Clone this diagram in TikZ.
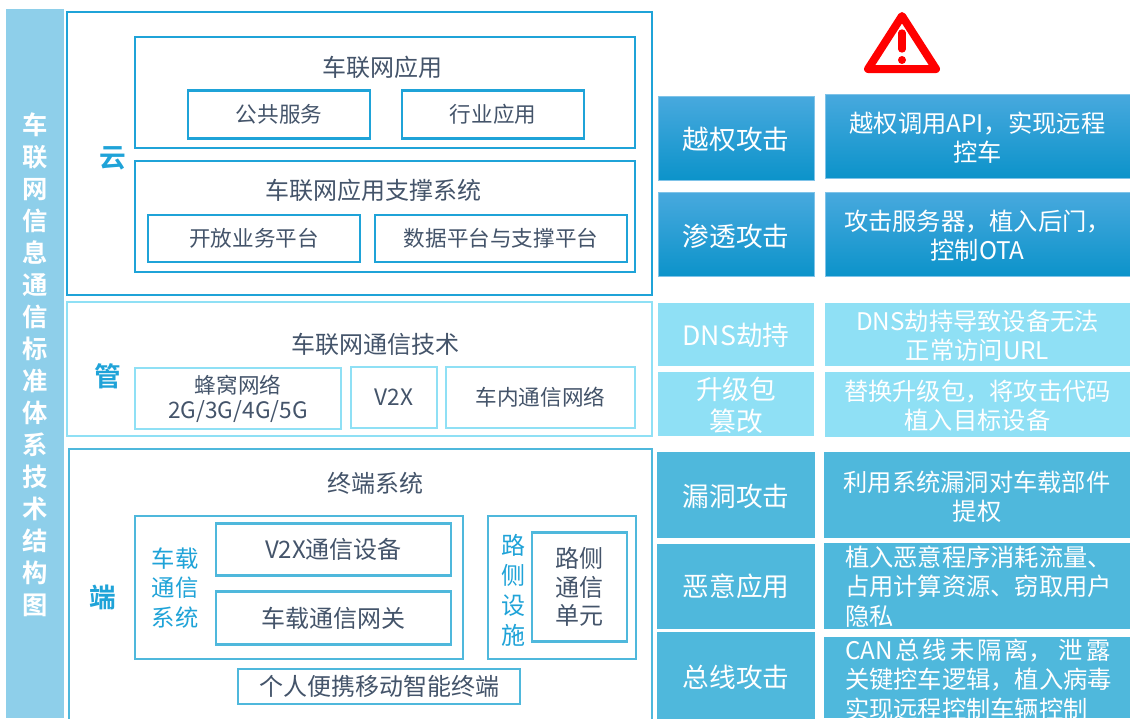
\documentclass[tikz,border=0pt]{standalone}
\usepackage{fontspec}
\setmainfont{Noto Sans CJK SC}
\newfontfamily\boldcjk{Noto Sans CJK SC Bold}
\definecolor{txtgray}{HTML}{44546A}
\definecolor{cloudblue}{HTML}{1FA3D8}
\definecolor{pipeblue}{HTML}{8FE0F5}
\definecolor{endblue}{HTML}{4FB8DC}
\definecolor{sidebar}{HTML}{8ECFEA}
\definecolor{hottop}{HTML}{48A9DE}
\definecolor{hotmid}{HTML}{16A0DA}
\definecolor{hotlow}{HTML}{0C93CA}

\begin{document}
\begin{tikzpicture}[%
	x=.75pt,y=-.75pt,
	every node/.style = {align=center,inner sep=0pt,outer sep=0pt},
	wh/.style 2 args={minimum width=#1*.75pt,minimum height=#2*.75pt},
	txt/.style={text=txtgray,font=\fontsize{18}{21.5}\selectfont},
	small/.style={text=txtgray,font=\fontsize{16.2}{20.5}\selectfont},
	frame/.style={draw=#1,line width=2pt,fill=white},
	tag/.style={text=cloudblue,font=\fontsize{20}{22}\boldcjk},
	attack/.style={text=white,font=\fontsize{20}{24}\selectfont},
	detail/.style={text=white,font=\fontsize{18.2}{22}\selectfont},
	hot/.style={draw=hottop!70!white,line width=.6pt,top color=hottop,middle color=hotmid,bottom color=hotlow},
	flat/.style={fill=#1}
	]
  \useasboundingbox (0,0) rectangle (1130,718);
  \clip (0,0) rectangle (1130,718);

  % side title
  \node [wh={58}{709},fill=sidebar] (side) at (35,363.5) {};
  \node [text=white,font=\fontsize{19}{24}\boldcjk] (sidetxt) at (35,365) {车\\联\\网\\信\\息\\通\\信\\标\\准\\体\\系\\技\\术\\结\\构\\图};

  % cloud
  \node [frame=cloudblue,wh={585}{283}] (cloud) at (359.5,153.5) {};
  \node [tag] (yun) at (113,158) {云};
  \node [frame=cloudblue,wh={500}{111}] (app) at (385,92.5) {};
  \node [txt] (apptxt) at (382,67) {车联网应用};
  \node [frame=cloudblue,small,wh={182}{48}] (pub) at (279,114.5) {公共服务};
  \node [frame=cloudblue,small,wh={182}{48}] (ind) at (493,114.5) {行业应用};
  \node [frame=cloudblue,wh={500}{111}] (sup) at (385,216.5) {};
  \node [txt] (suptxt) at (373,190.5) {车联网应用支撑系统};
  \node [frame=cloudblue,small,wh={212}{47}] (open) at (254,238.5) {开放业务平台};
  \node [frame=cloudblue,small,wh={252}{47}] (data) at (501,238.5) {数据平台与支撑平台};

  % pipe
  \node [frame=pipeblue,wh={585}{134}] (pipe) at (359.5,369) {};
  \node [tag] (guan) at (108,376) {管};
  \node [txt] (pipetxt) at (375,344.5) {车联网通信技术};
  \node [frame=pipeblue,small,wh={206}{61}] (cell) at (238,398.5) {蜂窝网络\\[-1.5pt]{\fontsize{17}{20.5}\selectfont 2G/3G/4G/5G}};
  \node [frame=pipeblue,small,wh={86}{61}] (vtox) at (394,397.5) {\fontsize{17}{20.5}\selectfont V2X};
  \node [frame=pipeblue,small,wh={189}{61}] (invehicle) at (540.5,397.5) {车内通信网络};

  % terminal
  \node [frame=endblue,wh={583}{290}] (term) at (360.5,594) {};
  \node [tag] (duan) at (103,597) {端};
  \node [txt] (termtxt) at (375,483.5) {终端系统};
  \node [frame=endblue,wh={328}{143}] (obu) at (299,587.5) {};
  \node [text=cloudblue,font=\fontsize{17.5}{22}\selectfont] (obutxt) at (175,588) {车载\\通信\\系统};
  \node [frame=endblue,txt,wh={235}{52}] (vdev) at (333.5,549.5) {V2X通信设备};
  \node [frame=endblue,txt,wh={235}{53}] (gate) at (333.5,618) {车载通信网关};
  \node [frame=endblue,wh={148}{143}] (road) at (562,587.5) {};
  \node [text=cloudblue,font=\fontsize{18}{22.5}\selectfont] (roadtxt) at (513,590.5) {路\\侧\\设\\施};
  \node [frame=endblue,txt,wh={95}{109}] (rsu) at (579.5,587) {路侧\\通信\\单元};
  \node [frame=endblue,txt,wh={282}{35}] (mobile) at (379,686.5) {个人便携移动智能终端};

  % attacks
  \node [hot,wh={156}{84}] (a1) at (736,138) {};
  \node [attack] (a1txt) at (736,139.5) {越权攻击};
  \node [hot,wh={156}{84}] (a2) at (736,234) {};
  \node [attack] (a2txt) at (736,236) {渗透攻击};
  \node [flat=pipeblue,wh={156}{63}] (a3) at (736,334.5) {};
  \node [attack] (a3txt) at (736,335.5) {DNS劫持};
  \node [flat=pipeblue,wh={156}{64}] (a4) at (736,404) {};
  \node [attack] (a4txt) at (736,405) {升级包\\篡改};
  \node [flat=endblue,wh={158}{86}] (a5) at (736,495) {};
  \node [attack] (a5txt) at (736,496.5) {漏洞攻击};
  \node [flat=endblue,attack,wh={158}{85}] (a6) at (736,586.5) {恶意应用};
  \node [flat=endblue,attack,wh={158}{90}] (a7) at (736,677) {总线攻击};

  \node [hot,wh={305}{84}] (d1) at (977.5,136) {};
  \node [detail] (d1txt) at (977.5,137.5) {越权调用API，实现远程\\控车};
  \node [hot,wh={305}{84}] (d2) at (977.5,234) {};
  \node [detail] (d2txt) at (977.5,235.5) {攻击服务器，植入后门，\\控制OTA};
  \node [flat=pipeblue,wh={305}{63}] (d3) at (977.5,334.5) {};
  \node [detail] (d3txt) at (977.5,336) {DNS劫持导致设备无法\\正常访问URL};
  \node [flat=pipeblue,wh={305}{65}] (d4) at (977.5,404.5) {};
  \node [detail] (d4txt) at (977.5,405.5) {替换升级包，将攻击代码\\植入目标设备};
  \node [flat=endblue,wh={306}{86}] (d5) at (977,495) {};
  \node [detail] (d5txt) at (977,496.5) {利用系统漏洞对车载部件\\提权};
  \node [flat=endblue,wh={306}{86}] (d6) at (977,586) {};
  \node [detail,align=left,anchor=west] (d6txt) at (845,586.5) {植入恶意程序消耗流量、\\占用计算资源、窃取用户\\隐私};
  \node [flat=endblue,wh={306}{81}] (d7) at (977,677.5) {};
  \node [detail,align=left,anchor=north west] (d7txt) at (845,639) {\makebox[199pt][s]{CAN\hfill 总\hfill 线\hfill 未\hfill 隔\hfill 离，\hfill\hfill 泄\hfill 露}\\关键控车逻辑，植入病毒\\实现远程控制车辆控制};

  % warning sign
  \draw [red,line width=6pt,line join=round,fill=white] (902,16) -- (936,69) -- (868,69) -- cycle;
  \draw [red,line width=5.5pt,line cap=round] (902,33) -- (902,49);
  \fill [red] (902,60) circle (4);
\end{tikzpicture}
\end{document}
